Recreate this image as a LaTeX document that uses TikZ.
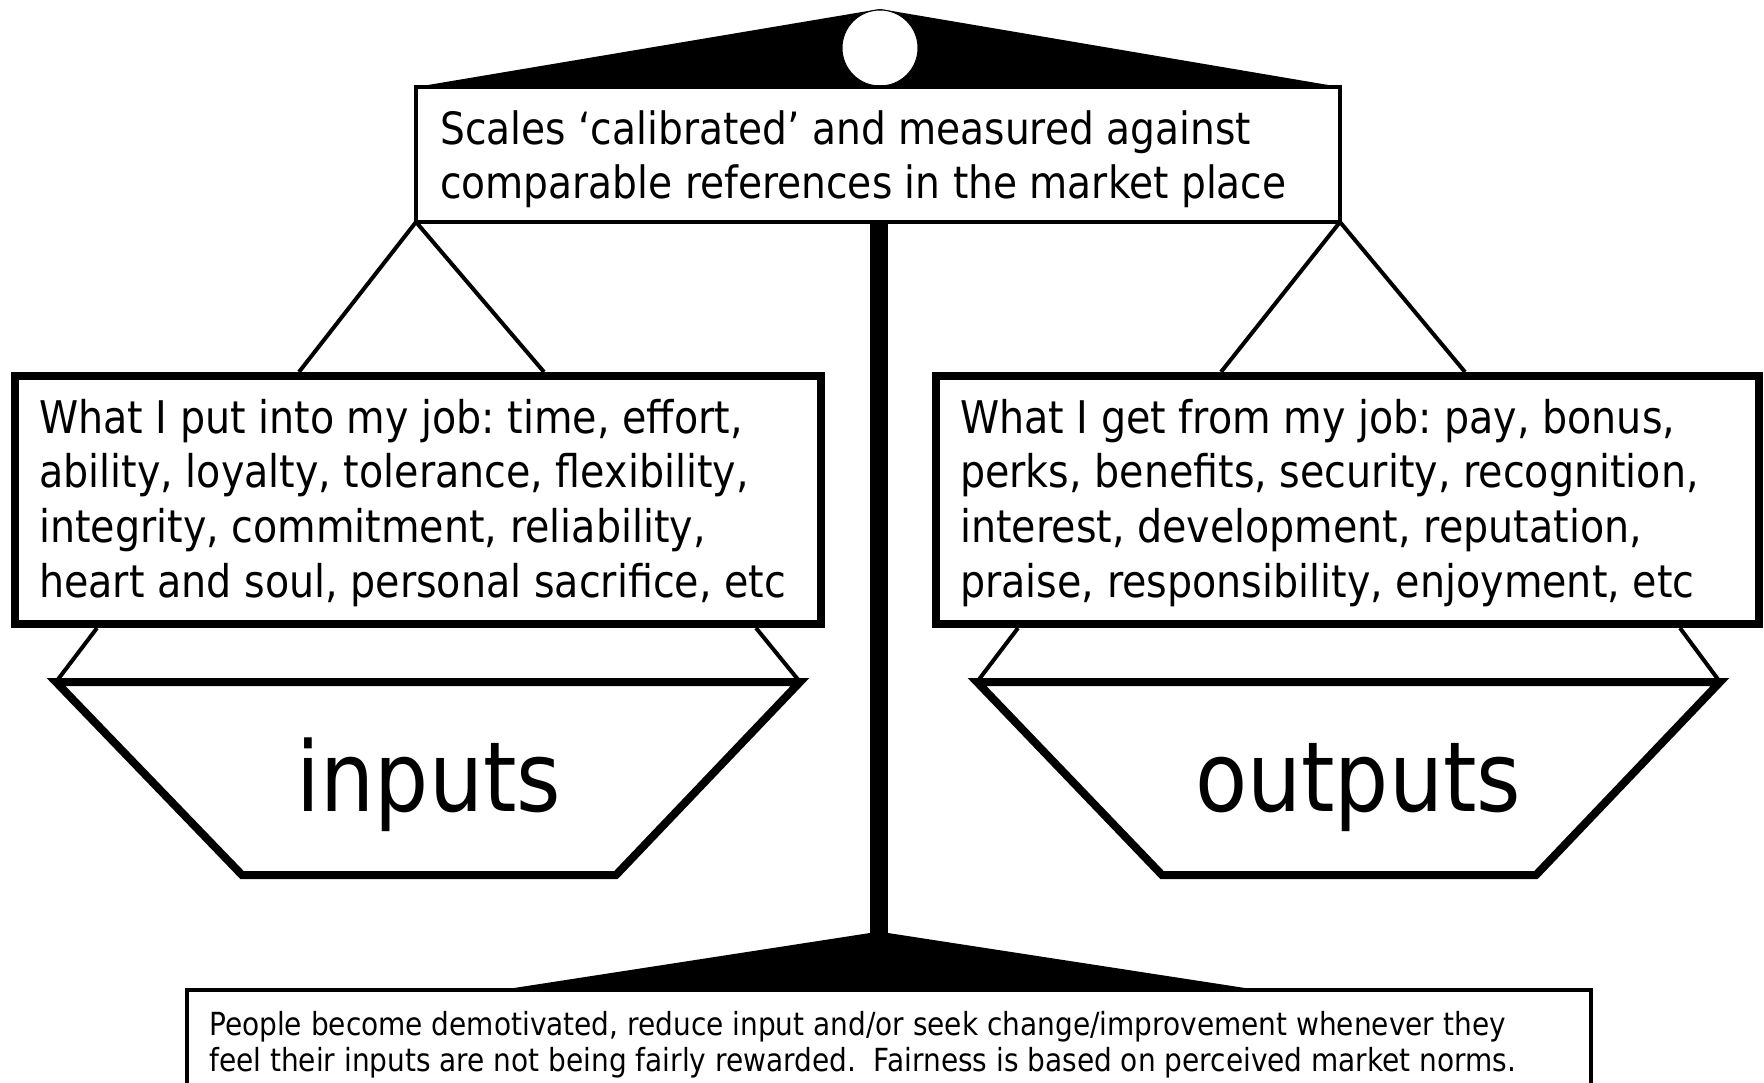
\documentclass[tikz,border=0pt]{standalone}
\usepackage{fontspec}
\setmainfont{DejaVu Sans}[FakeStretch=0.88]
\frenchspacing
\begin{document}
\begin{tikzpicture}[x=1pt,y=-1pt,
  thinline/.style={line width=4pt,line join=miter},
  thickline/.style={line width=8pt,line join=miter},
  txt/.style={inner sep=0pt,anchor=base west,font=\fontsize{45pt}{54pt}\selectfont},
  toptxt/.style={inner sep=0pt,anchor=base west,font=\fontsize{44.5pt}{54pt}\selectfont},
  bigtxt/.style={inner sep=0pt,anchor=base,font=\fontsize{97pt}{110pt}\selectfont},
  smalltxt/.style={inner sep=0pt,anchor=base west,font=\fontsize{31.8pt}{36pt}\selectfont}]
\useasboundingbox (0,0) rectangle (1764,1083);
\clip (0,0) rectangle (1764,1083);
\fill[white] (0,0) rectangle (1764,1083);

% coordinates
\coordinate (beamL) at (416,87);
\coordinate (beamR) at (1340,87);
\coordinate (apex) at (880,9);
\coordinate (topBL) at (416,222);
\coordinate (topBR) at (1340,222);

% top beam
\fill[black] (beamL) -- (apex) -- (beamR) -- cycle;
\node[circle,draw=black,line width=1pt,fill=white,minimum size=76pt,inner sep=0pt] (pivot) at (880,48) {};

% pole and base
\fill[black] (870,222) rectangle (888,935);
\fill[black] (870,933) -- (888,933) -- (1258,990) -- (501,990) -- cycle;

% arms
\coordinate (lfL) at (299,372);
\coordinate (lfR) at (544,372);
\coordinate (rfL) at (1221,372);
\coordinate (rfR) at (1465,372);
\draw[thinline] (lfL) -- (topBL) -- (lfR);
\draw[thinline] (rfL) -- (topBR) -- (rfR);

% top box
\draw[thinline,fill=white] (topBL) rectangle (beamR);
\node[toptxt] (t1) at (440,145) {Scales ‘calibrated’ and measured against};
\node[toptxt] (t2) at (440,199) {comparable references in the market place};

% left box
\draw[thickline,fill=white] (15,376) rectangle (821,624);
\node[txt] (l1) at (39,433) {What I put into my job: time, effort,};
\node[txt] (l2) at (39,487) {ability, loyalty, tolerance, flexibility,};
\node[txt] (l3) at (39,542) {integrity, commitment, reliability,};
\node[txt] (l4) at (39,597) {heart and soul, personal sacrifice, etc};

% right box
\draw[thickline,fill=white] (936,376) rectangle (1759,624);
\node[txt] (r1) at (960,433) {What I get from my job: pay, bonus,};
\node[txt] (r2) at (960,487) {perks, benefits, security, recognition,};
\node[txt] (r3) at (960,542) {interest, development, reputation,};
\node[txt] (r4) at (960,597) {praise, responsibility, enjoyment, etc};

% left pan
\coordinate (lpTL) at (56,682);
\coordinate (lpTR) at (800,682);
\draw[thinline] (97,628) -- (lpTL);
\draw[thinline] (756,628) -- (lpTR);
\draw[thickline] (lpTL) -- (lpTR) -- (616,875) -- (242,875) -- cycle;
\node[bigtxt] (inputs) at (429,811) {inputs};

% right pan
\coordinate (rpTL) at (977,682);
\coordinate (rpTR) at (1720,682);
\draw[thinline] (1018,628) -- (rpTL);
\draw[thinline] (1680,628) -- (rpTR);
\draw[thickline] (rpTL) -- (rpTR) -- (1536,875) -- (1162,875) -- cycle;
\node[bigtxt] (outputs) at (1358,811) {outputs};

% bottom box
\draw[thinline,fill=white] (187,990) rectangle (1591,1120);
\node[smalltxt] (b1) at (209,1035) {People become demotivated, reduce input and/or seek change/improvement whenever they};
\node[smalltxt] (b2) at (209,1071) {feel their inputs are not being fairly rewarded.\ \ Fairness is based on perceived market norms.};
\end{tikzpicture}
\end{document}
